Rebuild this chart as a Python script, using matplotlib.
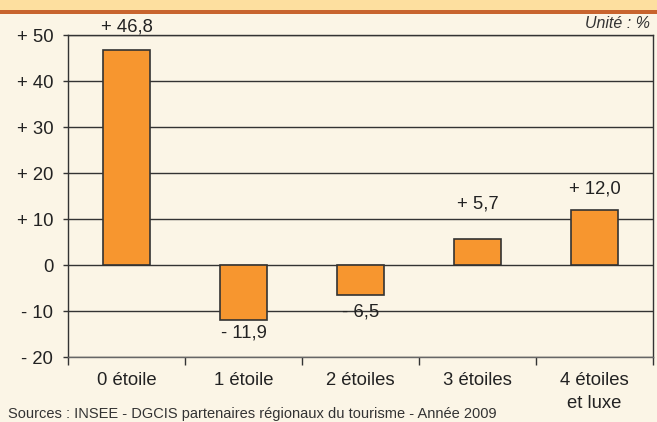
import matplotlib
matplotlib.use("Agg")
import matplotlib.pyplot as plt
from matplotlib.patches import Rectangle

categories = ["0 étoile", "1 étoile", "2 étoiles", "3 étoiles", "4 étoiles\net luxe"]
values = [46.8, -11.9, -6.5, 5.7, 12.0]
value_labels = ["+ 46,8", "- 11,9", "- 6,5", "+ 5,7", "+ 12,0"]
yticks = [-20, -10, 0, 10, 20, 30, 40, 50]
ytick_labels = ["- 20", "- 10", "0", "+ 10", "+ 20", "+ 30", "+ 40", "+ 50"]

BG = "#FBF5E6"
BAR = "#F7962F"
DARK = "#333333"
TXT = "#222222"
FS = 13.3

plt.rcParams["font.family"] = ["Liberation Sans", "DejaVu Sans"]

W, H = 657, 422
fig = plt.figure(figsize=(W / 100, H / 100), dpi=100, facecolor=BG)

# top band + orange rule
fig.add_artist(Rectangle((0, 1 - 10 / H), 1, 10 / H, transform=fig.transFigure,
                         color="#FDDF9F", lw=0))
fig.add_artist(Rectangle((0, 1 - 13.5 / H), 1, 3.5 / H, transform=fig.transFigure,
                         color="#C8642E", lw=0))

x0, x1, ytop, ybot = 68, 653, 35, 357
ax = fig.add_axes([x0 / W, 1 - ybot / H, (x1 - x0) / W, (ybot - ytop) / H])
ax.set_facecolor(BG)

xs = range(len(categories))
ax.bar(xs, values, width=0.41, color=BAR, edgecolor=DARK, linewidth=1.2, zorder=3)
ax.set_xlim(-0.5, len(categories) - 0.5)
ax.set_ylim(-20, 50)

for y in yticks:
    ax.axhline(y, color=DARK, lw=1.0, zorder=1)

# label offsets (in data units) from the bar end, as laid out in the original
label_dy = [5.0, -2.8, -3.7, 7.6, 4.6]
for x, v, lab, dy in zip(xs, values, value_labels, label_dy):
    ax.text(x, v + dy, lab, ha="center", va="center", fontsize=FS, color=TXT,
            zorder=4, clip_on=False)

ax.set_yticks(yticks)
ax.set_yticklabels(ytick_labels, fontsize=FS, color=TXT)
ax.tick_params(axis="y", length=3.6, width=1.0, color=DARK, pad=7)

ax.set_xticks(list(xs))
ax.set_xticklabels(categories, fontsize=FS, color=TXT, linespacing=1.45, va="top")
ax.tick_params(axis="x", length=0, pad=11)
ax.set_xticks([i - 0.5 for i in range(len(categories) + 1)], minor=True)
ax.tick_params(axis="x", which="minor", length=5.8, width=1.0, color=DARK, direction="out")

for s in ["left", "right", "top"]:
    ax.spines[s].set_color(DARK)
    ax.spines[s].set_linewidth(1.0)
ax.spines["bottom"].set_color("#666666")
ax.spines["bottom"].set_linewidth(1.0)

fig.text(650 / W, 1 - 23 / H, "Unité : %", ha="right", va="center", fontsize=11.5,
         style="italic", color="#333333")
fig.text(8 / W, 1 - 414 / H, "Sources : INSEE - DGCIS partenaires régionaux du tourisme - Année 2009",
         ha="left", va="center", fontsize=10.5, color="#333333")

fig.savefig("out.png", dpi=100, facecolor=BG)
